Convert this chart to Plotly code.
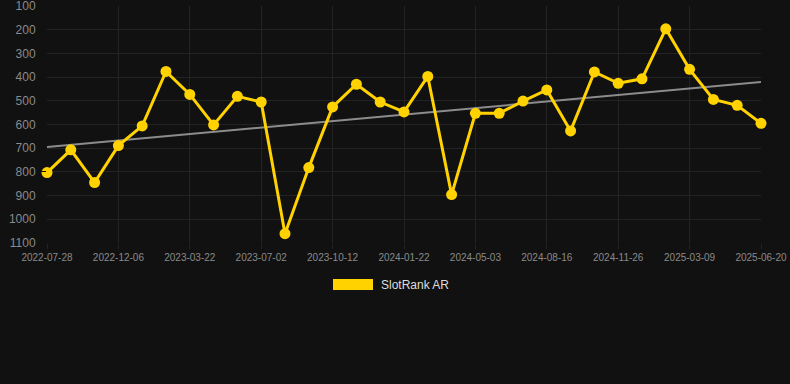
import numpy as np
import plotly.graph_objects as go

dates = [
    "2022-07-28", "2022-09-10", "2022-10-24",
    "2022-12-06", "2023-01-20", "2023-02-20",
    "2023-03-22", "2023-04-27", "2023-05-28",
    "2023-07-02", "2023-08-05", "2023-09-08",
    "2023-10-12", "2023-11-15", "2023-12-18",
    "2024-01-22", "2024-02-27", "2024-04-01",
    "2024-05-03", "2024-06-06", "2024-07-12",
    "2024-08-16", "2024-09-20", "2024-10-23",
    "2024-11-26", "2024-12-31", "2025-02-02",
    "2025-03-09", "2025-04-15", "2025-05-18",
    "2025-06-20",
]
rank = [
    803, 707, 845, 689, 606, 376, 473, 602, 481, 505,
    1061, 782, 526, 430, 505, 547, 397, 896, 553, 553,
    501, 454, 627, 378, 426, 407, 196, 367, 494, 519,
    595,
]
tick_labels = dates[::3]
y_ticks = [100, 200, 300, 400, 500, 600, 700, 800, 900, 1000, 1100]
series_name = "SlotRank AR"

idx = np.arange(len(rank))
coef = np.polyfit(idx, rank, 1)
trend = np.polyval(coef, idx)

YELLOW = "#FFD200"
BG = "#111111"
GRID = "#232323"
TICK = "#8a8a8a"
FONT = "Liberation Sans, Arial, sans-serif"

fig = go.Figure()
fig.add_trace(go.Scatter(
    x=dates, y=trend, mode="lines",
    line=dict(color="#8c8c8c", width=2),
    showlegend=False, hoverinfo="skip", cliponaxis=False,
))
fig.add_trace(go.Scatter(
    x=dates, y=rank, mode="lines+markers", name=series_name,
    line=dict(color=YELLOW, width=3),
    marker=dict(color=YELLOW, size=11),
    showlegend=False, cliponaxis=False,
))

# legend (box + label)
fig.add_shape(type="rect", xref="paper", yref="paper",
              x0=(333 - 47) / 714, x1=(373 - 47) / 714,
              y0=(243 - 290) / 237, y1=(243 - 279) / 237,
              fillcolor=YELLOW, line=dict(width=0))
fig.add_annotation(text=series_name, xref="paper", yref="paper",
                   x=(379 - 47) / 714, y=(243 - 285) / 237,
                   xanchor="left", yanchor="middle", showarrow=False,
                   font=dict(family=FONT, size=12, color="#dddddd"))

fig.update_layout(
    width=790, height=384,
    paper_bgcolor=BG, plot_bgcolor=BG,
    margin=dict(l=47, r=29, t=6, b=141),
    font=dict(family=FONT, color=TICK),
    xaxis=dict(
        type="category", range=[0, len(dates) - 1],
        tickmode="array", tickvals=tick_labels, ticktext=tick_labels,
        tickangle=0, automargin=False,
        showgrid=True, gridcolor=GRID, gridwidth=1,
        ticks="outside", ticklen=5, tickcolor=GRID,
        tickfont=dict(size=10, color=TICK),
        zeroline=False, showline=False,
    ),
    yaxis=dict(
        range=[1100.5, 99.5], tickvals=y_ticks, automargin=False,
        showgrid=True, gridcolor=GRID, gridwidth=1,
        ticks="outside", ticklen=8, tickcolor=BG,
        tickfont=dict(size=12, color=TICK),
        ticklabeloverflow="allow",
        zeroline=False, showline=False,
    ),
)

fig.write_html(
    "out.html",
    config={"displayModeBar": False},
    post_script="document.body.style.margin='0';document.body.style.background='#111111';",
)
